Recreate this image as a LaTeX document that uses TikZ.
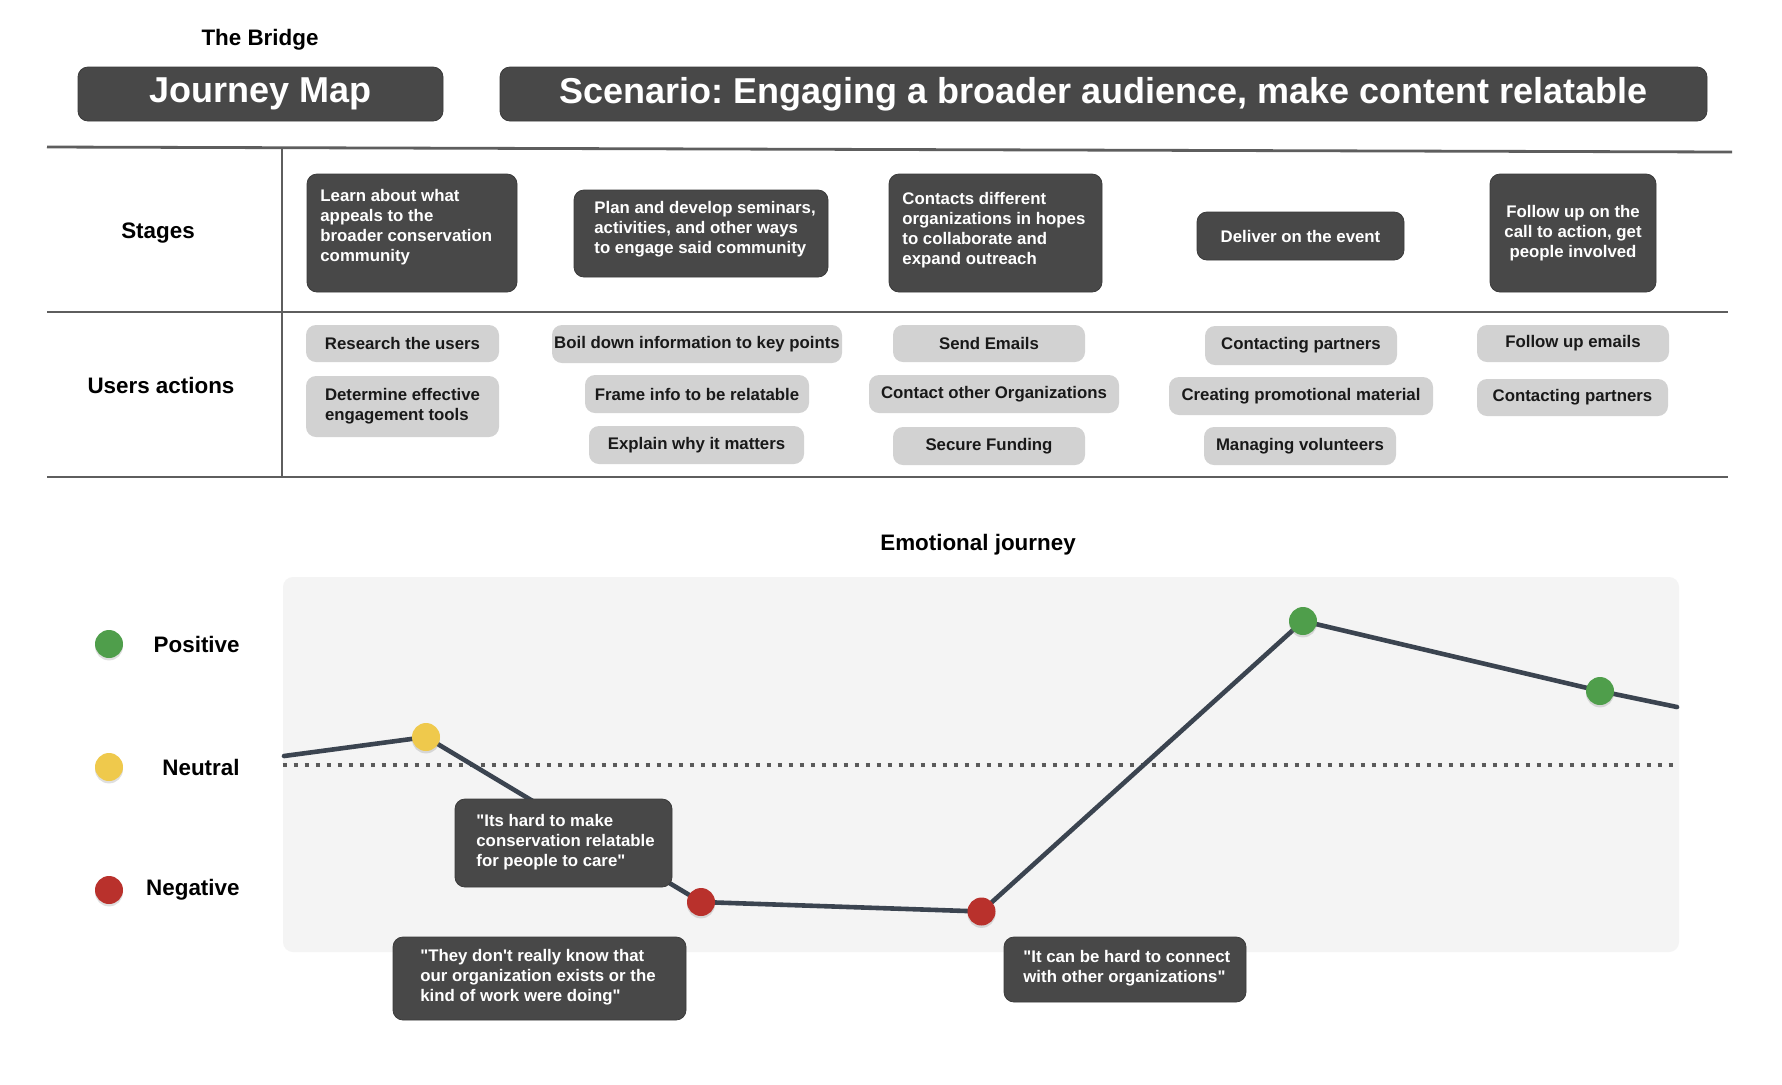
\documentclass[tikz,border=0pt]{standalone}
\usepackage{fontspec}
\setmainfont{Liberation Sans}[Ligatures=TeXOff]
\usetikzlibrary{shadows}
\definecolor{boxdark}{HTML}{484848}
\definecolor{boxedge}{HTML}{3A3A3A}
\definecolor{pillgray}{HTML}{D2D2D2}
\definecolor{panelgray}{HTML}{F4F4F4}
\definecolor{gridgray}{HTML}{5E5E5E}
\definecolor{journeyc}{HTML}{3B4450}
\definecolor{dotgreen}{HTML}{4F9E4B}
\definecolor{dotyellow}{HTML}{EFC94C}
\definecolor{dotred}{HTML}{B9312C}
\definecolor{dashgray}{HTML}{5A5A5A}
\newcommand{\pxu}{0.5pt}
\newcommand{\fstage}{\fontsize{8.4}{10}\selectfont\bfseries}
\newcommand{\ftitle}{\fontsize{18}{21}\selectfont\bfseries}
\newcommand{\flabel}{\fontsize{11.2}{13}\selectfont\bfseries}
\frenchspacing
\tikzset{
  darkbox/.style={fill=boxdark, draw=boxedge, line width=0.4pt, rounded corners=5pt, inner sep=0pt, text=white},
  pill/.style={fill=pillgray, rounded corners=5pt, inner sep=0pt, font=\fstage, text=black!90, align=center},
  wtext/.style={text=white, font=\fstage, inner sep=0pt},
  sectlabel/.style={font=\flabel, inner sep=0pt, text=black},
  gridline/.style={draw=gridgray, line width=1.4pt},
  dashline/.style={draw=dashgray, line width=2pt, dash pattern=on 2pt off 3.5pt},
  journey/.style={draw=journeyc, line width=2.3pt, line cap=round, line join=round},
  emodot/.style={circle, minimum size=28*\pxu, inner sep=0pt, draw=none,
    drop shadow={shadow xshift=0pt, shadow yshift=-1.2pt, opacity=0.25}},
}
\begin{document}
\begin{tikzpicture}[x=0.5pt,y=-0.5pt]
\fill[white] (0,0) rectangle (1782,1084);
\useasboundingbox (0,0) rectangle (1782,1084);

% header
\node[sectlabel] (bridge) at (260,40) {The Bridge};
\node[darkbox, minimum width=365*\pxu, minimum height=54*\pxu, font=\ftitle] (jm) at (260.5,94) {Journey Map};
\node[darkbox, minimum width=1207*\pxu, minimum height=54*\pxu, font=\ftitle] (scen) at (1103.5,94) {Scenario: Engaging a broader audience, make content relatable};

% table grid
\coordinate (tl) at (47,147);
\coordinate (tr) at (1732,152);
\coordinate (ml) at (47,312);
\coordinate (mr) at (1728,312);
\coordinate (bl) at (47,477);
\coordinate (br) at (1728,477);
\coordinate (vt) at (282,147);
\coordinate (vb) at (282,477);
\draw[gridline] (tl) -- (tr);
\draw[gridline] (ml) -- (mr);
\draw[gridline] (bl) -- (br);
\draw[gridline] (vt) -- (vb);

\node[sectlabel] (stages) at (158,233) {Stages};
\node[sectlabel] (uact) at (161,385) {Users actions};

% stages
\node[darkbox, minimum width=210*\pxu, minimum height=118*\pxu] (st1) at (412,233) {};
\node[wtext, anchor=west, align=left] (st1t) at (320,227) {Learn about what\\appeals to the\\broader conservation\\community};
\node[darkbox, minimum width=254*\pxu, minimum height=87*\pxu] (st2) at (701,233.5) {};
\node[wtext, anchor=west, align=left] (st2t) at (594,229) {Plan and develop seminars,\\activities, and other ways\\to engage said community};
\node[darkbox, minimum width=213*\pxu, minimum height=118*\pxu] (st3) at (995.5,233) {};
\node[wtext, anchor=west, align=left] (st3t) at (902,230) {Contacts different\\organizations in hopes\\to collaborate and\\expand outreach};
\node[darkbox, minimum width=207*\pxu, minimum height=48*\pxu, font=\fstage] (st4) at (1300.5,236) {Deliver on the event};
\node[darkbox, minimum width=166*\pxu, minimum height=118*\pxu, font=\fstage, align=center] (st5) at (1573,233) {Follow up on the\\call to action, get\\people involved};

% user actions
\node[pill, minimum width=193*\pxu, minimum height=37*\pxu] (a1) at (402.5,343.5) {Research the users};
\node[pill, minimum width=193*\pxu, minimum height=61*\pxu, align=left] (a2) at (402.5,406.5) {Determine effective\\engagement tools};
\node[pill, minimum width=290*\pxu, minimum height=38*\pxu] (a3) at (697,344) {Boil down information to key points};
\node[pill, minimum width=224*\pxu, minimum height=38*\pxu] (a4) at (697,394) {Frame info to be relatable};
\node[pill, minimum width=215*\pxu, minimum height=38*\pxu] (a5) at (696.5,445) {Explain why it matters};
\node[pill, minimum width=192*\pxu, minimum height=37*\pxu] (a6) at (989,343.5) {Send Emails};
\node[pill, minimum width=250*\pxu, minimum height=38*\pxu] (a7) at (994,394) {Contact other Organizations};
\node[pill, minimum width=192*\pxu, minimum height=38*\pxu] (a8) at (989,446) {Secure Funding};
\node[pill, minimum width=192*\pxu, minimum height=39*\pxu] (a9) at (1301,345.5) {Contacting partners};
\node[pill, minimum width=264*\pxu, minimum height=38*\pxu] (a10) at (1301,396) {Creating promotional material};
\node[pill, minimum width=192*\pxu, minimum height=38*\pxu] (a11) at (1300,446) {Managing volunteers};
\node[pill, minimum width=192*\pxu, minimum height=37*\pxu] (a12) at (1573,343.5) {Follow up emails};
\node[pill, minimum width=191*\pxu, minimum height=37*\pxu] (a13) at (1572.5,397.5) {Contacting partners};

% emotional journey
\node[sectlabel] (emo) at (978,545) {Emotional journey};
\node[fill=panelgray, rounded corners=5pt, inner sep=0pt, minimum width=1396*\pxu, minimum height=375*\pxu] (panel) at (981,764.5) {};
\draw[dashline] (panel.west) -- (panel.east);

% legend
\node[emodot, fill=dotgreen] (lg) at (109,644) {};
\node[emodot, fill=dotyellow] (ly) at (109,767) {};
\node[emodot, fill=dotred] (lr) at (109,890) {};
\node[sectlabel, anchor=east] (lpos) at (240,644) {Positive};
\node[sectlabel, anchor=east] (lneu) at (240,767) {Neutral};
\node[sectlabel, anchor=east] (lneg) at (240,890) {Negative};

% journey line
\coordinate (j0) at (284,756);
\coordinate (j1) at (426,737);
\coordinate (j2) at (701,902);
\coordinate (j3) at (981.5,911.5);
\coordinate (j4) at (1303,621);
\coordinate (j5) at (1600,691);
\coordinate (j6) at (1677,707);
\draw[journey] (j0) -- (j1) -- (j2) -- (j3) -- (j4) -- (j5) -- (j6);

\node[emodot, fill=dotyellow] (d1) at (j1) {};
\node[emodot, fill=dotred] (d2) at (j2) {};
\node[emodot, fill=dotred] (d3) at (j3) {};
\node[emodot, fill=dotgreen] (d4) at (j4) {};
\node[emodot, fill=dotgreen] (d5) at (j5) {};

% quotes
\node[darkbox, minimum width=217*\pxu, minimum height=88*\pxu] (q1) at (563.5,843) {};
\node[wtext, anchor=west, align=left] (q1t) at (476,842) {"Its hard to make\\conservation relatable\\for people to care"};
\node[darkbox, minimum width=293*\pxu, minimum height=83*\pxu] (q2) at (539.5,978.5) {};
\node[wtext, anchor=west, align=left] (q2t) at (420,977) {"They don't really know that\\our organization exists or the\\kind of work were doing"};
\node[darkbox, minimum width=242*\pxu, minimum height=65*\pxu] (q3) at (1125,969.5) {};
\node[wtext, anchor=west, align=left] (q3t) at (1023,968) {"It can be hard to connect\\with other organizations"};
\end{tikzpicture}
\end{document}
